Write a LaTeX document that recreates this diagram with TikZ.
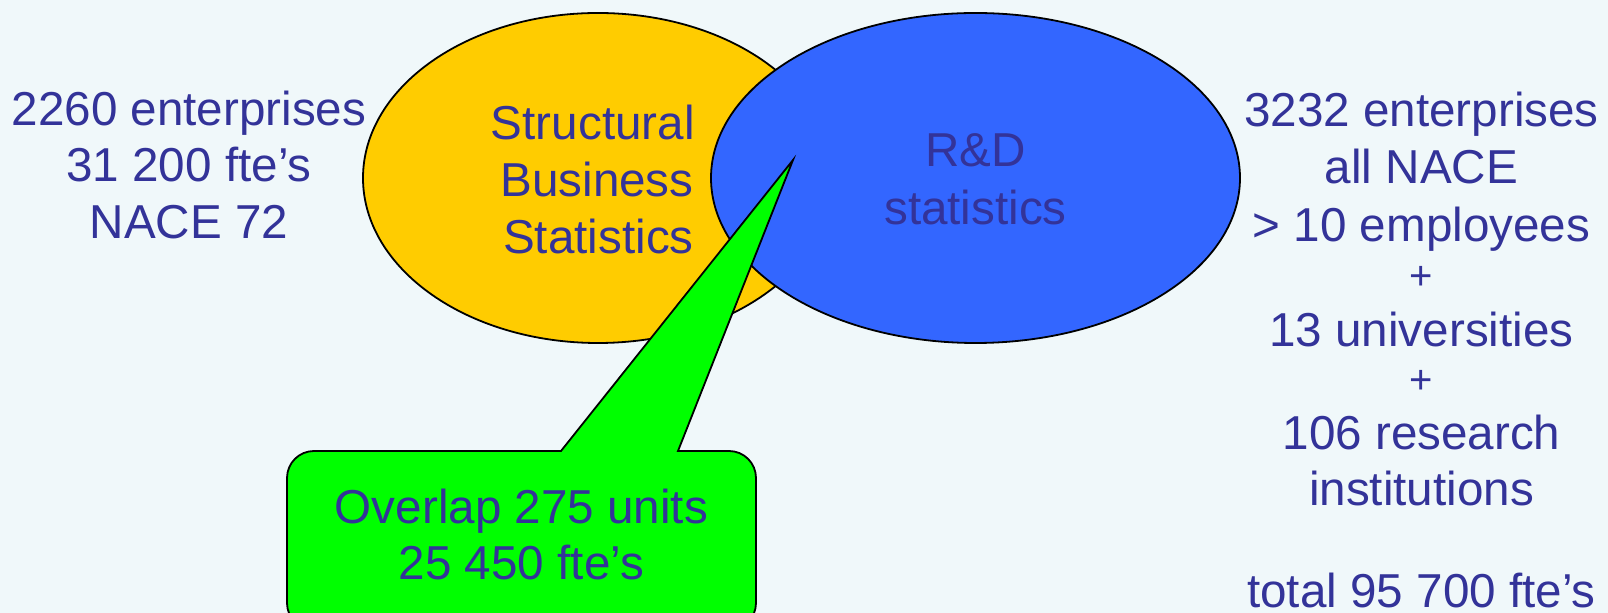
\documentclass[tikz,border=0pt]{standalone}
\usepackage{fontspec}
\setmainfont{Liberation Sans}
\usetikzlibrary{shapes.geometric}
\definecolor{bgcol}{HTML}{F0F8FA}
\definecolor{txtblue}{HTML}{333399}
\definecolor{sbsyellow}{HTML}{FFCC00}
\definecolor{rdblue}{HTML}{3366FF}
\definecolor{callgreen}{HTML}{00FF00}
\begin{document}
\begin{tikzpicture}[x=0.5pt,y=0.5pt,
  txt/.style={font=\fontsize{23.8}{28.5}\selectfont, text=txtblue, inner sep=0pt, anchor=base},
  txtsmall/.style={font=\fontsize{20}{24}\selectfont, text=txtblue, inner sep=0pt, anchor=base},
  txtright/.style={txt, anchor=base east},
  venn/.style={ellipse, draw=black, line width=0.9pt, inner sep=0pt},
  callbox/.style={draw=black, line width=0.9pt, fill=callgreen}]
\useasboundingbox (0,0) rectangle (1608,-613);
\fill[bgcol] (0,0) rectangle (1608,-613);
\clip (0,0) rectangle (1608,-613);
% Venn ellipses
\node[venn, fill=sbsyellow, minimum width=235pt, minimum height=165pt] (sbs) at (598,-178) {};
\node[venn, fill=rdblue, minimum width=264.5pt, minimum height=165pt] (rd) at (975.5,-178) {};
% callout
\coordinate (tip) at (793,-160);
\draw[callbox] (561,-451) -- (tip) -- (678,-451) -- (729,-451)
  arc[start angle=90, end angle=0, radius=27] -- (756,-603)
  arc[start angle=0, end angle=-90, radius=27] -- (314,-630)
  arc[start angle=270, end angle=180, radius=27] -- (287,-478)
  arc[start angle=180, end angle=90, radius=27] -- cycle;
% texts in ellipses
\node[txtright] (s1) at (695,-140) {Structural};
\node[txtright] (s2) at (694,-197) {Business};
\node[txtright] (s3) at (694,-254) {Statistics};
\node[txt] (d1) at (975.5,-167) {R\&D};
\node[txt] (d2) at (975.5,-225) {statistics};
% callout text
\node[txt] (o1) at (521.5,-524) {Overlap 275 units};
\node[txt] (o2) at (521.5,-580) {25 450 fte’s};
% left text
\node[txt] (l1) at (189,-126) {2260 enterprises};
\node[txt] (l2) at (189,-182) {31 200 fte’s};
\node[txt] (l3) at (189,-239) {NACE 72};
% right text
\node[txt] (r1) at (1421.5,-127) {3232 enterprises};
\node[txt] (r2) at (1421.5,-184) {all NACE};
\node[txt] (r3) at (1421.5,-242) {> 10 employees};
\node[txtsmall] (r4) at (1421.5,-290) {+};
\node[txt] (r5) at (1421.5,-347) {13 universities};
\node[txtsmall] (r6) at (1421.5,-394) {+};
\node[txt] (r7) at (1421.5,-450) {106 research};
\node[txt] (r8) at (1421.5,-506) {institutions};
\node[txt] (r9) at (1421.5,-608) {total 95 700 fte’s};
\end{tikzpicture}
\end{document}
